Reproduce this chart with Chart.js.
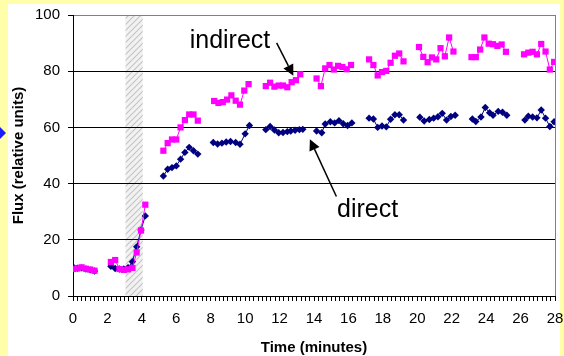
<!DOCTYPE html>
<html>
<head>
<meta charset="utf-8">
<script src="https://cdn.jsdelivr.net/npm/chart.js@4"></script>
<style>
  body { margin: 0; background: #ffffaa; }
  #wrap { width: 564px; height: 356px; }
</style>
</head>
<body>
<div id="wrap"><canvas id="fluxChart" width="564" height="356"></canvas></div>
<script>
// Time (minutes); null flux = gap in the recording
const indirectTime = [
  0, 0.25, 0.5, 0.75, 1, 1.25, 1.75,
  2.2, 2.45, 2.7, 2.95, 3.2, 3.45, 3.7, 3.95, 4.2, 4.7,
  5.25, 5.5, 5.75, 6, 6.25, 6.5, 6.75, 7, 7.25, 7.7,
  8.2, 8.45, 8.7, 8.95, 9.2, 9.45, 9.7, 9.95, 10.2, 10.7,
  11.2, 11.45, 11.7, 11.95, 12.2, 12.45, 12.7, 12.95, 13.2, 13.7,
  14.15, 14.4, 14.65, 14.9, 15.15, 15.4, 15.65, 15.9, 16.15, 16.7,
  17.2, 17.45, 17.7, 17.95, 18.2, 18.45, 18.7, 18.95, 19.2, 19.6,
  20.1, 20.35, 20.6, 20.85, 21.1, 21.35, 21.6, 21.85, 22.1, 22.6,
  23.15, 23.4, 23.65, 23.9, 24.15, 24.4, 24.65, 24.9, 25.15, 25.7,
  26.2, 26.45, 26.7, 26.95, 27.2, 27.45, 27.7, 27.95
];
const indirectFlux = [
  9.6, 9.8, 10.2, 9.7, 9.4, 9.0, null,
  12.1, 12.8, 9.6, 9.3, 9.5, 10.0, 15.5, 23.3, 32.5, null,
  51.7, 54.4, 55.7, 55.7, 60.0, 62.6, 64.6, 64.6, 62.4, null,
  69.4, 68.7, 69.0, 69.9, 71.4, 69.5, 68.1, 73.1, 75.4, null,
  74.7, 75.9, 74.5, 74.9, 74.9, 74.3, 76.1, 76.8, 78.9, null,
  77.4, 74.7, 81.0, 82.2, 80.6, 81.9, 81.5, 80.7, 82.2, null,
  84.2, 82.2, 78.5, 79.7, 80.1, 83.0, 85.5, 86.3, 83.5, null,
  88.6, 85.1, 83.2, 84.9, 84.2, 88.2, 85.3, 92.0, 87.0, null,
  85.0, 85.0, 87.7, 92.0, 89.8, 89.6, 89.0, 89.5, 86.9, null,
  86.0, 86.6, 86.9, 86.0, 89.7, 87.0, 80.6, 83.3
];

const directTime = [
  0, 0.25, 0.5, 0.75, 1, 1.25, 1.75,
  2.2, 2.45, 2.7, 2.95, 3.2, 3.45, 3.7, 3.95, 4.2, 4.7,
  5.25, 5.5, 5.75, 6, 6.25, 6.5, 6.75, 7, 7.25, 7.7,
  8.15, 8.4, 8.65, 8.9, 9.15, 9.45, 9.7, 10.0, 10.25, 10.7,
  11.2, 11.45, 11.7, 11.95, 12.2, 12.45, 12.65, 12.9, 13.15, 13.35, 13.8,
  14.15, 14.45, 14.65, 14.95, 15.2, 15.45, 15.7, 15.95, 16.2, 16.7,
  17.2, 17.45, 17.7, 17.95, 18.2, 18.45, 18.7, 18.95, 19.2, 19.6,
  20.15, 20.4, 20.7, 20.95, 21.2, 21.45, 21.7, 21.95, 22.2, 22.7,
  23.2, 23.4, 23.7, 23.95, 24.2, 24.4, 24.7, 24.95, 25.2, 25.7,
  26.25, 26.45, 26.7, 26.95, 27.2, 27.45, 27.7, 27.95
];
const directFlux = [
  10.4, 9.9, 10.0, 9.6, 9.3, 8.9, null,
  10.6, 9.8, 9.6, 9.6, 10.1, 12.2, 17.5, 23.5, 28.5, null,
  42.7, 45.1, 45.7, 46.3, 48.7, 51.1, 52.9, 51.7, 50.5, null,
  54.6, 54.1, 54.4, 54.8, 55.0, 54.6, 54.0, 57.7, 60.7, null,
  59.2, 60.3, 59.1, 58.1, 58.2, 58.5, 58.7, 59.0, 59.2, 59.3, null,
  58.7, 58.1, 61.2, 62.0, 61.6, 62.4, 61.3, 60.7, 61.6, null,
  63.3, 63.0, 60.0, 60.5, 60.2, 62.9, 64.5, 64.5, 62.6, null,
  63.6, 62.3, 62.8, 63.3, 63.8, 65.0, 62.6, 63.9, 64.3, null,
  63.0, 62.1, 63.7, 67.1, 65.2, 64.3, 65.7, 65.4, 64.3, null,
  62.6, 64.0, 63.7, 63.4, 66.2, 63.3, 60.3, 62.0
];

// shaded interval (minutes)
const bandStart = 3.05;
const bandEnd = 4.05;

const FONT = "'Liberation Sans', Arial, sans-serif";

function toPoints(times, values) {
  return times.map((t, i) => ({ x: t, y: values[i] }));
}

function hatchPattern(ctx) {
  const c = document.createElement("canvas");
  c.width = 6;
  c.height = 6;
  const p = c.getContext("2d");
  p.fillStyle = "#f2f2f2";
  p.fillRect(0, 0, 6, 6);
  p.strokeStyle = "#c4c4c4";
  p.lineWidth = 1.1;
  p.beginPath();
  p.moveTo(0, 6); p.lineTo(6, 0);
  p.moveTo(-3, 3); p.lineTo(3, -3);
  p.moveTo(3, 9); p.lineTo(9, 3);
  p.stroke();
  return ctx.createPattern(c, "repeat");
}

function drawArrow(ctx, x0, y0, x1, y1) {
  const ang = Math.atan2(y1 - y0, x1 - x0);
  const len = 11, half = 5.5;
  const bx = x1 - len * Math.cos(ang);
  const by = y1 - len * Math.sin(ang);
  ctx.beginPath();
  ctx.moveTo(x0, y0);
  ctx.lineTo(bx, by);
  ctx.stroke();
  ctx.beginPath();
  ctx.moveTo(x1, y1);
  ctx.lineTo(bx + half * Math.sin(ang), by - half * Math.cos(ang));
  ctx.lineTo(bx - half * Math.sin(ang), by + half * Math.cos(ang));
  ctx.closePath();
  ctx.fill();
}

// background panel, slide marker and the hatched interval
const backdrop = {
  id: "backdrop",
  beforeDraw(chart) {
    const { ctx, chartArea: a, scales: { x } } = chart;
    ctx.save();
    ctx.fillStyle = "#ffffaa";
    ctx.fillRect(0, 0, chart.width, chart.height);
    ctx.fillStyle = "#ffffff";
    ctx.fillRect(8, 4, 552, chart.height - 4);

    ctx.fillStyle = "#1a1aff";
    ctx.beginPath();
    ctx.moveTo(-1, 126);
    ctx.lineTo(6, 133);
    ctx.lineTo(-1, 140);
    ctx.closePath();
    ctx.fill();

    const x0 = x.getPixelForValue(bandStart);
    const x1 = x.getPixelForValue(bandEnd);
    ctx.fillStyle = hatchPattern(ctx);
    ctx.fillRect(x0, a.top, x1 - x0, a.bottom - a.top);
    ctx.restore();
  },
  beforeDatasetsDraw(chart) {
    const { ctx, chartArea: a } = chart;
    ctx.save();
    ctx.strokeStyle = "#808080";
    ctx.lineWidth = 1;
    ctx.beginPath();
    ctx.moveTo(a.right + 0.5, a.top);
    ctx.lineTo(a.right + 0.5, a.bottom);
    ctx.stroke();
    ctx.restore();
  },
  afterDatasetsDraw(chart) {
    const { ctx, scales: { x, y } } = chart;
    ctx.save();
    ctx.fillStyle = "#000";
    ctx.strokeStyle = "#000";
    ctx.lineWidth = 1.5;
    ctx.font = "25px " + FONT;
    ctx.textBaseline = "alphabetic";

    ctx.textAlign = "center";
    ctx.fillText("indirect", x.getPixelForValue(9.12), y.getPixelForValue(88.3));
    drawArrow(ctx, x.getPixelForValue(11.83), y.getPixelForValue(90.1),
                   x.getPixelForValue(12.8), y.getPixelForValue(78.4));

    ctx.textAlign = "left";
    ctx.fillText("direct", x.getPixelForValue(15.34), y.getPixelForValue(28.0));
    drawArrow(ctx, x.getPixelForValue(15.3), y.getPixelForValue(35.4),
                   x.getPixelForValue(13.76), y.getPixelForValue(55.8));
    ctx.restore();
  }
};

new Chart(document.getElementById("fluxChart"), {
  type: "line",
  data: {
    datasets: [
      {
        label: "indirect",
        data: toPoints(indirectTime, indirectFlux),
        borderColor: "#ff00ff",
        backgroundColor: "#ff00ff",
        borderWidth: 1,
        pointStyle: "rect",
        pointRadius: 4.4,
        pointBorderWidth: 0,
        spanGaps: false,
        tension: 0
      },
      {
        label: "direct",
        data: toPoints(directTime, directFlux),
        borderColor: "#000080",
        backgroundColor: "#000080",
        borderWidth: 1,
        pointStyle: "rectRot",
        pointRadius: 3.7,
        pointBorderWidth: 0,
        spanGaps: false,
        tension: 0
      }
    ]
  },
  options: {
    responsive: false,
    animation: false,
    layout: { padding: { top: 15, right: 9, left: 0, bottom: 0 } },
    plugins: {
      legend: { display: false },
      tooltip: { enabled: false }
    },
    scales: {
      x: {
        type: "linear",
        min: 0,
        max: 28,
        afterFit(s) {
          s.height = 60;
          s.paddingLeft = 0;
          s.paddingRight = 0;
        },
        ticks: {
          stepSize: 0.25,
          autoSkip: false,
          maxRotation: 0,
          padding: 9,
          color: "#000",
          font: { size: 15, family: FONT },
          callback: (v) => (v % 2 === 0 ? v : "")
        },
        grid: { drawOnChartArea: false, tickLength: 5, color: "#000" },
        border: { color: "#000" },
        title: {
          display: true,
          text: "Time (minutes)",
          color: "#000",
          padding: 0,
          font: { size: 15, weight: "bold", family: FONT, lineHeight: 1.1 }
        }
      },
      y: {
        min: 0,
        max: 100,
        afterFit(s) {
          s.width = 73;
          s.paddingTop = 0;
          s.paddingBottom = 0;
        },
        ticks: {
          stepSize: 20,
          padding: 8,
          color: "#000",
          font: { size: 15, family: FONT }
        },
        grid: {
          color: (c) => (c.tick && c.tick.value === 100 ? "#808080" : "#000"),
          tickColor: "#000",
          tickLength: 5
        },
        border: { color: "#000" },
        title: {
          display: true,
          text: "Flux (relative units)",
          color: "#000",
          padding: { top: 11, bottom: 0 },
          font: { size: 15, weight: "bold", family: FONT, lineHeight: 1.1 }
        }
      }
    }
  },
  plugins: [backdrop]
});
</script>
</body>
</html>
